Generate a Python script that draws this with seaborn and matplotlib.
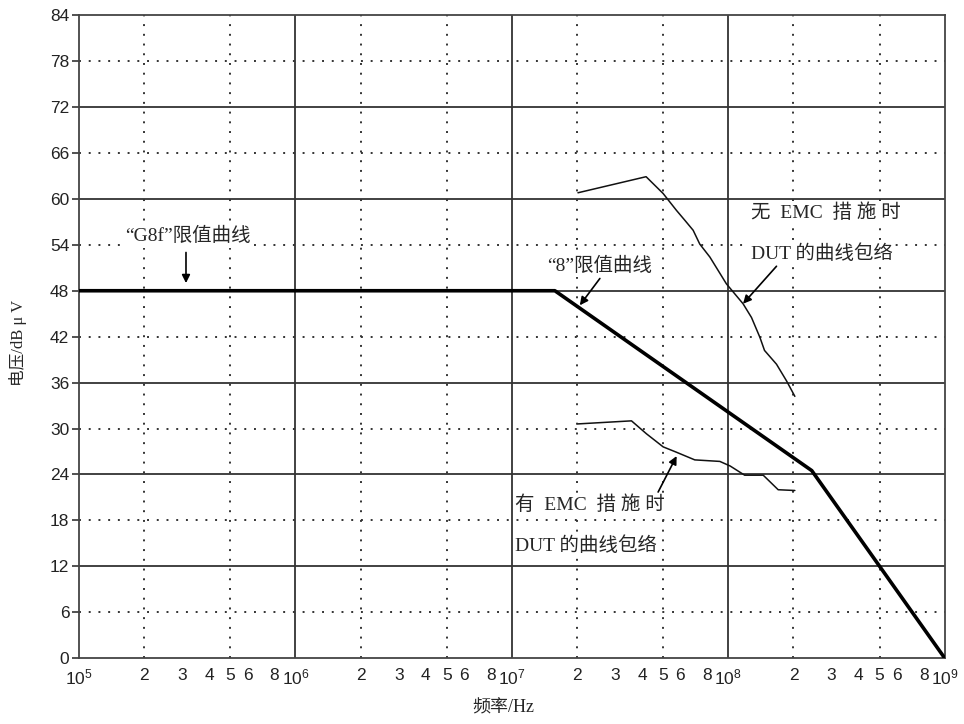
import matplotlib
matplotlib.use("Agg")
import matplotlib.pyplot as plt
import numpy as np
import seaborn as sns

# limit curve ("G8f" flat part + "8" sloped part)
limit_freq = [1e5, 1.58e7, 2.43e8, 1e9]
limit_db = [48, 48, 24.5, 0]

# DUT envelope without EMC measures
no_emc_freq = [2.02e7, 4.17e7, 5.0e7, 5.76e7, 6.3e7, 6.88e7, 7.38e7, 8.22e7,
               9.8e7, 1.17e8, 1.28e8, 1.40e8, 1.47e8, 1.67e8, 1.86e8, 2.03e8]
no_emc_db = [60.8, 62.9, 60.7, 58.5, 57.2, 55.9, 54.1, 52.4,
             48.9, 46.3, 44.5, 41.9, 40.2, 38.4, 36.2, 34.2]

# DUT envelope with EMC measures
emc_freq = [2.02e7, 3.57e7, 4.19e7, 5.0e7, 5.76e7, 7.0e7, 9.14e7, 1.02e8,
            1.19e8, 1.45e8, 1.70e8, 2.03e8]
emc_db = [30.6, 31.0, 29.3, 27.6, 26.9, 25.9, 25.7, 25.1,
          23.9, 23.9, 22.0, 21.9]

decades = [5, 6, 7, 8]
minor_mult = [2, 3, 4, 5, 6, 8]
y_ticks = list(range(0, 85, 6))

sns.set_style("white")
plt.rcParams['font.family'] = ['Liberation Serif', 'Noto Sans CJK SC', 'DejaVu Sans']
plt.rcParams['mathtext.fontset'] = 'custom'
plt.rcParams['mathtext.rm'] = 'Liberation Sans'
plt.rcParams['mathtext.it'] = 'Liberation Sans'

fig = plt.figure(figsize=(9.64, 7.24), dpi=100)
ax = fig.add_axes([0.082, 0.091, 0.898, 0.888])
ax.set_xscale('log')
ax.set_xlim(1e5, 1e9)
ax.set_ylim(0, 84)

# grid
grid_col = '#333333'
for y in range(12, 84, 12):
    ax.axhline(y, color=grid_col, lw=1.3, zorder=1)
for y in range(6, 84, 12):
    ax.axhline(y, color=grid_col, lw=1.4, ls=(0, (1, 4)), zorder=1)
for d in decades[1:]:
    ax.axvline(10.0 ** d, color=grid_col, lw=1.3, zorder=1)
for d in decades:
    for m in [2, 5]:
        ax.axvline(m * 10.0 ** d, color=grid_col, lw=1.4, ls=(0, (1, 4)), zorder=1)

# curves
sns.lineplot(x=limit_freq, y=limit_db, ax=ax, color='black', lw=2.6,
             estimator=None, sort=False, zorder=3)
sns.lineplot(x=no_emc_freq, y=no_emc_db, ax=ax, color='#111111', lw=1.1,
             estimator=None, sort=False, zorder=3)
sns.lineplot(x=emc_freq, y=emc_db, ax=ax, color='#111111', lw=1.1,
             estimator=None, sort=False, zorder=3)

# ticks
xt, xl = [], []
for d in decades:
    xt.append(10.0 ** d)
    xl.append(r'$10^{%d}$' % d)
    for m in minor_mult:
        xt.append(m * 10.0 ** d)
        xl.append(str(m))
xt.append(1e9)
xl.append(r'$10^{9}$')
ax.set_xticks(xt)
ax.set_xticklabels(xl, family='Liberation Sans', fontsize=12.5, color='#222222')
ax.set_xticks([1.4e5, 2e5, 3e5, 4e5, 5e5, 6e5, 7e5, 8e5, 9e5], minor=True)
ax.tick_params(axis='x', which='major', length=0, pad=7)
ax.tick_params(axis='x', which='minor', length=6, width=1.2, direction='in',
               color=grid_col, labelbottom=False)
ax.set_yticks(y_ticks)
ax.set_yticklabels([str(v) for v in y_ticks], family='Liberation Sans',
                   fontsize=12.5, color='#222222')
ax.tick_params(axis='y', which='major', length=5, width=1.2, direction='out',
               color=grid_col, left=True, pad=2)
for s in ax.spines.values():
    s.set_color('#444444')
    s.set_linewidth(1.3)

ax.set_xlabel('频率/Hz', fontsize=13)
ax.xaxis.set_label_coords(0.49, -0.065)
ax.set_ylabel('电压/dB μ V', fontsize=12)
ax.yaxis.set_label_coords(-0.06, 0.49)

box = dict(facecolor='white', edgecolor='none', pad=1.5)
arrow = dict(arrowstyle='-|>', color='black', lw=1.2, mutation_scale=12,
             shrinkA=0, shrinkB=0)
fs = 14

ax.text(3.19e5, 55.1, '“G8f”限值曲线', fontsize=fs, ha='center', va='center',
        bbox=box, zorder=4)
ax.annotate('', xy=(3.12e5, 49.0), xytext=(3.12e5, 53.0), arrowprops=arrow, zorder=4)

ax.text(2.55e7, 51.2, '“8”限值曲线', fontsize=fs, ha='center', va='center',
        bbox=box, zorder=4)
ax.annotate('', xy=(2.06e7, 46.1), xytext=(2.55e7, 49.6), arrowprops=arrow, zorder=4)

ax.text(1.27e8, 58.2, '无  EMC  措 施 时', fontsize=fs, ha='left', va='center',
        bbox=box, zorder=4)
ax.text(1.27e8, 52.9, 'DUT 的曲线包络', fontsize=fs, ha='left', va='center',
        bbox=box, zorder=4)
ax.annotate('', xy=(1.17e8, 46.3), xytext=(1.67e8, 51.2), arrowprops=arrow, zorder=4)

ax.text(1.03e7, 20.0, '有  EMC  措 施 时', fontsize=fs, ha='left', va='center',
        bbox=box, zorder=4)
ax.text(1.03e7, 14.75, 'DUT 的曲线包络', fontsize=fs, ha='left', va='center',
        bbox=box, zorder=4)
ax.annotate('', xy=(5.77e7, 26.4), xytext=(4.74e7, 21.7), arrowprops=arrow, zorder=4)

fig.savefig('out.png', dpi=100)
